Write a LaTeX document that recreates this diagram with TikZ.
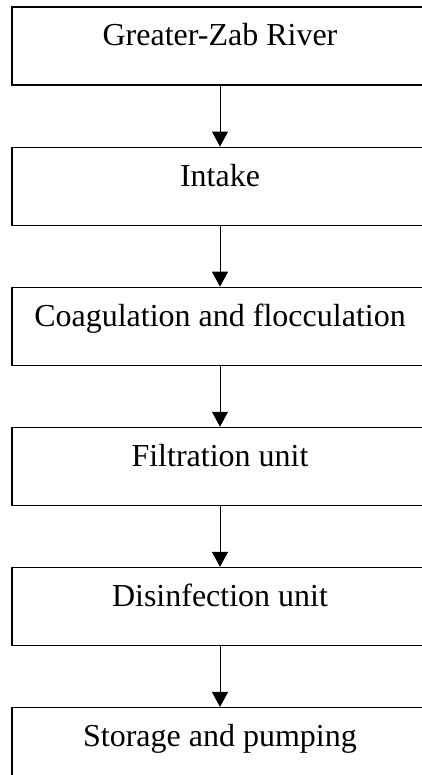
\documentclass[tikz,border=0pt]{standalone}
\usepackage{fontspec}
\setmainfont{Liberation Serif}
\usepackage{tikz}
\usetikzlibrary{positioning,arrows.meta}

\begin{document}
\begin{tikzpicture}[x=1pt, y=1pt,
  stage/.style={draw, line width=1.1pt, inner sep=0pt, minimum width=416pt,
    text height=39pt, text depth=39pt, font=\fontsize{32}{36}\selectfont},
  flow/.style={-{Triangle[width=16pt,length=15pt]}, line width=1pt},
  node distance=61pt]
             \useasboundingbox (0,0) rectangle (421,-775);

             \node[stage] (river) at (220, -46) {Greater-Zab River};
             \node[stage, below=of river] (intake) {Intake};
             \node[stage, below=of intake] (coag) {Coagulation and flocculation};
             \node[stage, below=of coag] (filter) {Filtration unit};
             \node[stage, below=of filter] (disinf) {Disinfection unit};
             \node[stage, below=of disinf] (storage) {Storage and pumping};

             \draw[flow] (river) -- (intake);
             \draw[flow] (intake) -- (coag);
             \draw[flow] (coag) -- (filter);
             \draw[flow] (filter) -- (disinf);
             \draw[flow] (disinf) -- (storage);
             \end{tikzpicture}
\end{document}
